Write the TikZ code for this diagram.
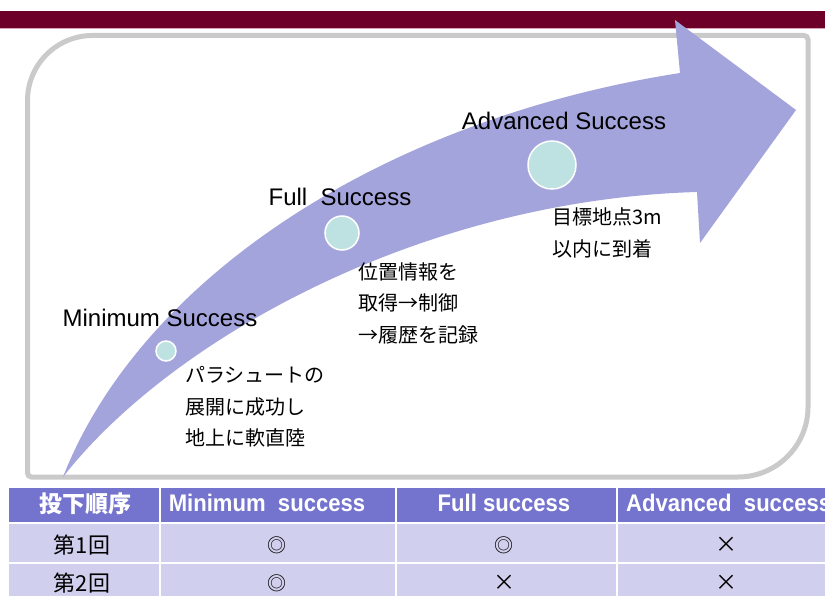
\documentclass[tikz,border=0pt]{standalone}
\usepackage{fontspec}
\setmainfont{Liberation Sans}
\newfontfamily\jp{Noto Sans CJK JP}
\newfontfamily\hdrfont[FakeStretch=0.92]{Liberation Sans}
\definecolor{maroonbar}{HTML}{6C0028}
\definecolor{pinkline}{HTML}{D9A3B5}
\definecolor{boxgray}{HTML}{CACACA}
\definecolor{arrowc}{HTML}{A4A4DC}
\definecolor{dotc}{HTML}{BEE2E2}
\definecolor{hdrc}{HTML}{7474CE}
\definecolor{rowc}{HTML}{D0D0EE}
\tikzset{
  lbl/.style={font=\fontsize{24}{28}\selectfont, inner sep=0pt, text=black},
  jptxt/.style={font=\jp\fontsize{20}{31.5}\selectfont, align=left, anchor=west, inner sep=0pt},
  dot/.style={circle, fill=dotc, draw=white, line width=1.5pt, inner sep=0pt},
  hcell/.style={fill=hdrc, draw=white, line width=2.5pt},
  bcell/.style={fill=rowc, draw=white, line width=2.5pt},
  htxt/.style={text=white, font=\hdrfont\bfseries\fontsize{24}{26}\selectfont, inner sep=0pt},
  hjp/.style={text=white, font=\jp\bfseries\fontsize{23}{26}\selectfont, inner sep=0pt},
  btxt/.style={font=\jp\fontsize{22}{26}\selectfont, inner sep=0pt},
  mark2/.style={font=\jp\fontsize{19}{22}\selectfont, inner sep=0pt},
}
\begin{document}
\begin{tikzpicture}[x=1pt,y=-1pt]
\clip (0,0) rectangle (825,596);
\fill[white] (0,0) rectangle (825,596);
% top bar
\fill[maroonbar] (0,11) rectangle (825,28);
\draw[pinkline, line width=1pt] (0,29) -- (825,29);
% rounded frame
\draw[boxgray, line width=5pt]
  (27.5,100.5) arc[start angle=180, end angle=270, radius=65]
  -- (804,35.5) arc[start angle=270, end angle=360, radius=4]
  -- (808,407) arc[start angle=0, end angle=90, radius=70]
  -- (31.5,477) arc[start angle=90, end angle=180, radius=4]
  -- cycle;
% curved arrow
\fill[arrowc] (63,477) .. controls (140,280) and (380,120) .. (680,73)
  -- (675,20) -- (796,110) -- (700,243) -- (697,192)
  .. controls (420,200) and (170,340) .. (63,477) -- cycle;
% milestones
\node[dot, minimum size=20pt] (c1) at (166,351) {};
\node[dot, minimum size=34pt] (c2) at (342,233) {};
\node[dot, minimum size=48pt] (c3) at (552,165) {};
\node[lbl] (l1) at (160,318) {Minimum Success};
\node[lbl] (l2) at (340,197) {Full\ \ Success};
\node[lbl] (l3) at (564,121) {Advanced Success};
\node[jptxt] (t1) at (185,407) {パラシュートの\\展開に成功し\\地上に軟直陸};
\node[jptxt] (t2) at (358,303) {位置情報を\\取得→制御\\→履歴を記録};
\node[jptxt] (t3) at (552,233) {目標地点3m\\以内に到着};
% table
\draw[hcell] (8,487) rectangle (160,523);
\draw[hcell] (160,487) rectangle (396,523);
\draw[hcell] (396,487) rectangle (617,523);
\draw[hcell] (617,487) rectangle (836,523);
\draw[bcell] (8,523) rectangle (160,563);
\draw[bcell] (160,523) rectangle (396,563);
\draw[bcell] (396,523) rectangle (617,563);
\draw[bcell] (617,523) rectangle (836,563);
\draw[bcell] (8,563) rectangle (160,602);
\draw[bcell] (160,563) rectangle (396,602);
\draw[bcell] (396,563) rectangle (617,602);
\draw[bcell] (617,563) rectangle (836,602);
\node[hjp] (h1) at (85,504) {投下順序};
\node[htxt] (h2) at (267,503) {Minimum\ \ success};
\node[htxt] (h3) at (504,503) {Full success};
\node[htxt, anchor=west] (h4) at (626,503) {Advanced\ \ success};
\node[btxt] (r1a) at (82,545) {第1回};
\node[mark2] (r1b) at (277,545) {◎};
\node[mark2] (r1c) at (504,545) {◎};
\node[btxt] (r1d) at (726,545) {×};
\node[btxt] (r2a) at (82,583) {第2回};
\node[mark2] (r2b) at (277,583) {◎};
\node[btxt] (r2c) at (504,583) {×};
\node[btxt] (r2d) at (726,583) {×};
\end{tikzpicture}
\end{document}
